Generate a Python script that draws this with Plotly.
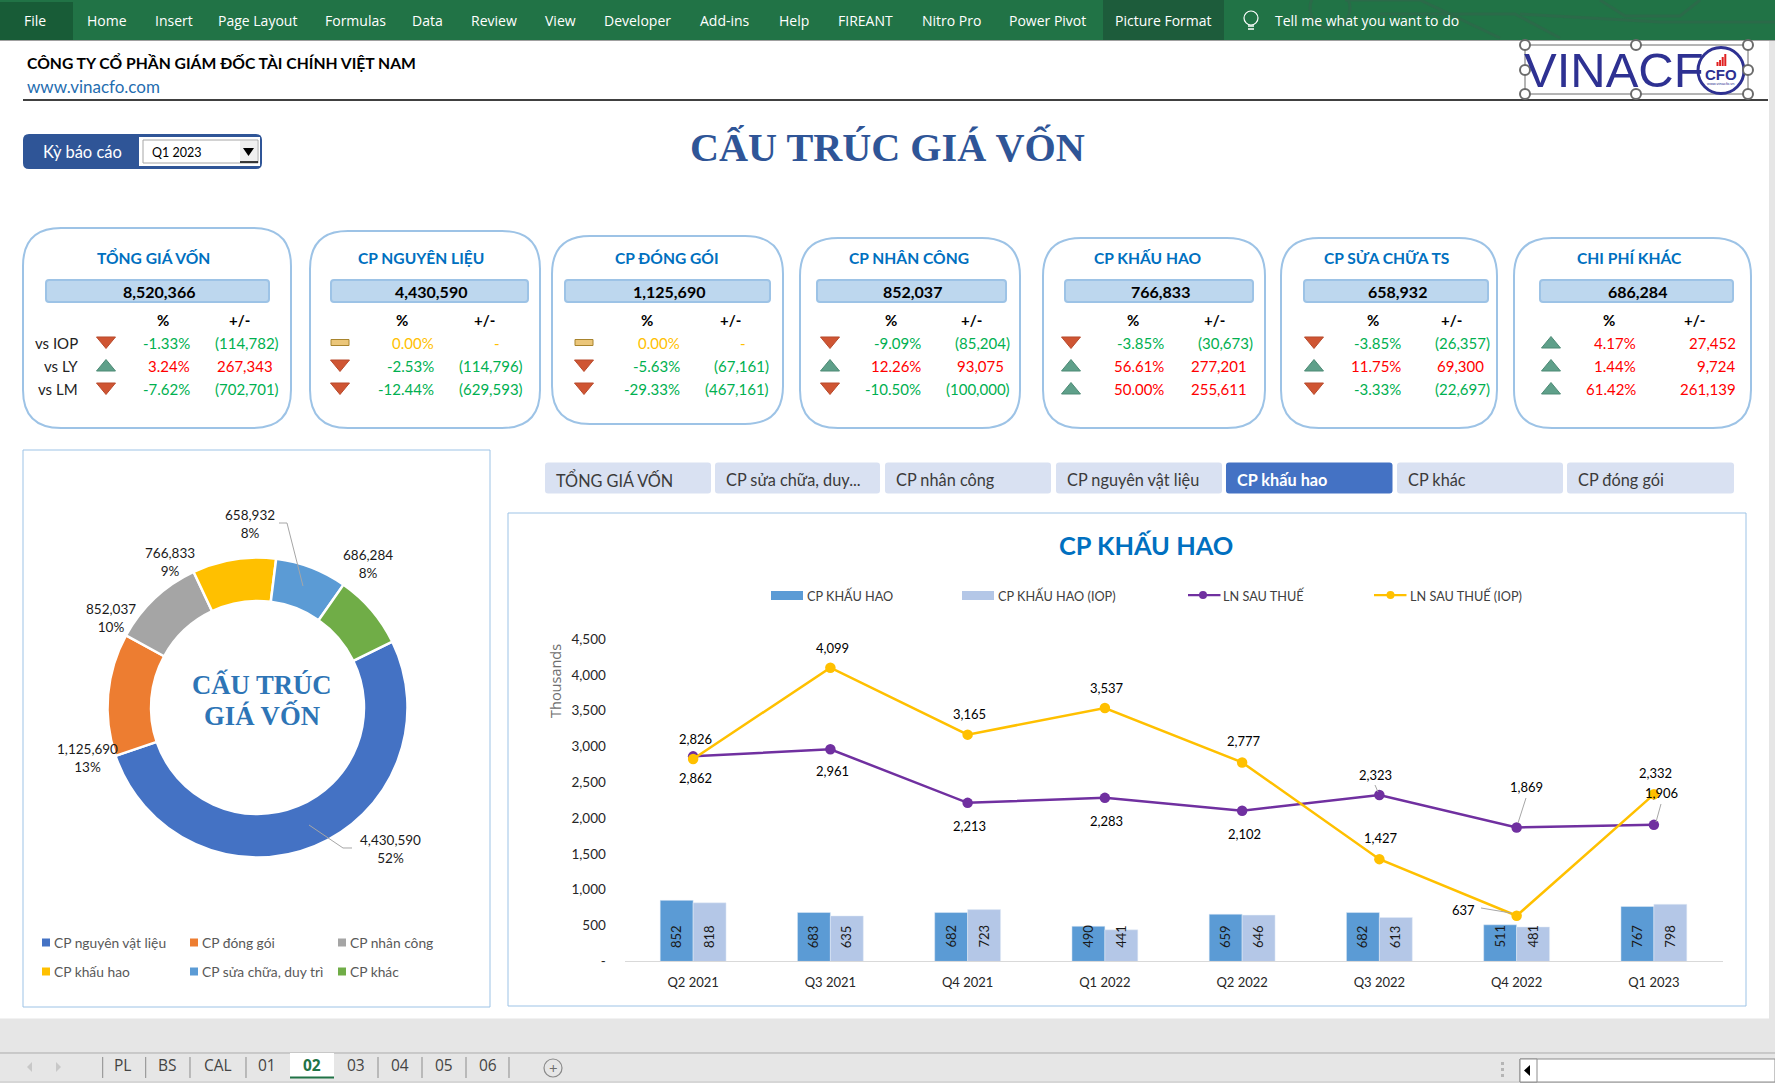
"""
Dashboard "Cau truc gia von" - rebuilt with plotly.
"""

from plotly import graph_objects as go

# DATA
pie_labels = ["CP nguyên vật liệu", "CP đóng gói", "CP nhân công",
              "CP khấu hao", "CP sửa chữa, duy trì", "CP khác"]
pie_values = [4430590, 1125690, 852037, 766833, 658932, 686284]
pie_pct_labels = ["52%", "13%", "10%", "9%", "8%", "8%"]

quarters = ["Q2 2021", "Q3 2021", "Q4 2021", "Q1 2022", "Q2 2022", "Q3 2022", "Q4 2022", "Q1 2023"]
cp_khau_hao = [852, 683, 682, 490, 659, 682, 511, 767]
cp_khau_hao_iop = [818, 635, 723, 441, 646, 613, 481, 798]
ln_sau_thue = [2862, 2961, 2213, 2283, 2102, 2323, 1869, 1906]
ln_sau_thue_iop = [2826, 4099, 3165, 3537, 2777, 1427, 637, 2332]
y_tick_values = [0, 500, 1000, 1500, 2000, 2500, 3000, 3500, 4000, 4500]
y_tick_labels = ["-", "500", "1,000", "1,500", "2,000", "2,500", "3,000", "3,500", "4,000", "4,500"]

card_titles = ["TỔNG GIÁ VỐN", "CP NGUYÊN LIỆU", "CP ĐÓNG GÓI", "CP NHÂN CÔNG",
               "CP KHẤU HAO", "CP SỬA CHỮA TS", "CHI PHÍ KHÁC"]
card_totals = [8520366, 4430590, 1125690, 852037, 766833, 658932, 686284]
row_names = ["vs IOP", "vs LY", "vs LM"]
pct_iop = [-1.33, 0.00, 0.00, -9.09, -3.85, -3.85, 4.17]
pct_ly = [3.24, -2.53, -5.63, 12.26, 56.61, 11.75, 1.44]
pct_lm = [-7.62, -12.44, -29.33, -10.50, 50.00, -3.33, 61.42]
amt_iop = [-114782, 0, 0, -85204, -30673, -26357, 27452]
amt_ly = [267343, -114796, -67161, 93075, 277201, 69300, 9724]
amt_lm = [-702701, -629593, -467161, -100000, 255611, -22697, 261139]

button_names = ["TỔNG GIÁ VỐN", "CP sửa chữa, duy...", "CP nhân công", "CP nguyên vật liệu",
                "CP khấu hao", "CP khác", "CP đóng gói"]
ribbon_names = ["Home", "Insert", "Page Layout", "Formulas", "Data", "Review", "View", "Developer",
                "Add-ins", "Help", "FIREANT", "Nitro Pro", "Power Pivot", "Picture Format"]
sheet_names = ["PL", "BS", "CAL", "01", "02", "03", "04", "05", "06"]

# LAYOUT CONSTANTS (pixels of the 1775x1083 page)
W, H = 1775, 1083
FONT_UI = "Open Sans"
FONT_CELL = "Lato"
FONT_SERIF = "Liberation Serif"
BLUE_BORDER = "#9DC3E6"
NAVY = "#2F5597"

ribbon_x = [87, 155, 218, 325, 412, 471, 545, 604, 700, 779, 838, 922, 1009, 1115]
sheet_x = [123, 167.5, 218, 267, 312, 356, 400, 444, 488]
sheet_sep = [102.7, 145.7, 190, 246, 290, 334, 378, 422, 466, 509]
button_box = [(545, 711), (715, 880), (885, 1051), (1056, 1222), (1226, 1392.5), (1397, 1563), (1567, 1734)]

card_box = [(23, 291, 228, 428), (310, 540, 231, 428), (552, 783, 236, 424), (800, 1020, 238, 428),
            (1043, 1265, 238, 428), (1281, 1497, 238, 428), (1514, 1751, 238, 428)]
card_title_x = [153, 421, 666.5, 909, 1147, 1386, 1629]
value_box = [(46, 269), (331, 528), (565, 770), (817, 1006), (1065, 1253), (1304, 1488), (1540, 1733)]
head_pct_x = [163, 402, 647, 891, 1133, 1373, 1609]
head_amt_x = [240, 484, 730, 971, 1214, 1451, 1694]
icon_x = [106, 340, 584, 830, 1071, 1314, 1551]
pct_right = [190, 434, 680, 921, 1164, 1401, 1636]
amt_right = [279, 523, 769, 1010, 1253, 1490, 1742]
row_y = [342.5, 365.5, 388.5]

pie_label_pos = [(390, 849), (87, 758), (111, 618), (170, 562), (250, 524), (368, 564)]
pie_legend_pos = [(42, 942.5), (190, 942.5), (338, 942.5), (42, 971.5), (190, 971.5), (338, 971.5)]
pie_colors = ["#4472C4", "#ED7D31", "#A5A5A5", "#FFC000", "#5B9BD5", "#70AD47"]

# label offsets from the line points (pixels)
iop_label_shift = [(2, 20), (2, 20), (2, 21), (2, 20), (2, 21), (2, 21), (-53, 6), (2, 21)]
ln_label_shift = [(2, -22), (2, -22), (2, -23), (2, -23), (2, -23), (-4, 20), (10, 41), (8, 32)]


def px(x):
    return x / W


def py(y):
    return 1 - y / H


shapes = []
annotations = []


def rect(x0, y0, x1, y1, fill=None, line=None, width=1, layer="below"):
    shapes.append(dict(type="rect", xref="paper", yref="paper", x0=px(x0), x1=px(x1), y0=py(y0), y1=py(y1),
                       fillcolor=fill or "rgba(0,0,0,0)", layer=layer,
                       line=dict(color=line or "rgba(0,0,0,0)", width=width if line else 0)))


def path(points, line=None, width=1, fill=None, close=False, layer="below"):
    d = "M " + " L ".join(f"{px(x):.5f},{py(y):.5f}" for x, y in points)
    if close:
        d += " Z"
    shapes.append(dict(type="path", xref="paper", yref="paper", path=d, fillcolor=fill or "rgba(0,0,0,0)",
                       layer=layer, line=dict(color=line or "rgba(0,0,0,0)", width=width if line else 0)))


def round_rect(x0, y0, x1, y1, r, fill=None, line=None, width=1):
    c = lambda x, y: f"{px(x):.5f},{py(y):.5f}"
    d = (f"M {c(x0 + r, y0)} L {c(x1 - r, y0)} Q {c(x1, y0)} {c(x1, y0 + r)} L {c(x1, y1 - r)} "
         f"Q {c(x1, y1)} {c(x1 - r, y1)} L {c(x0 + r, y1)} Q {c(x0, y1)} {c(x0, y1 - r)} "
         f"L {c(x0, y0 + r)} Q {c(x0, y0)} {c(x0 + r, y0)} Z")
    shapes.append(dict(type="path", xref="paper", yref="paper", path=d, fillcolor=fill or "rgba(0,0,0,0)",
                       layer="below", line=dict(color=line or "rgba(0,0,0,0)", width=width if line else 0)))


def circle(x, y, r, fill=None, line=None, width=1):
    shapes.append(dict(type="circle", xref="paper", yref="paper", x0=px(x - r), x1=px(x + r),
                       y0=py(y + r), y1=py(y - r), fillcolor=fill or "rgba(0,0,0,0)", layer="below",
                       line=dict(color=line or "rgba(0,0,0,0)", width=width if line else 0)))


def text(x, y, s, size=13, color="#000000", anchor="center", family=FONT_CELL, bold=False, angle=0):
    if bold:
        s = f"<b>{s}</b>"
    annotations.append(dict(xref="paper", yref="paper", x=px(x), y=py(y), text=s, showarrow=False,
                            xanchor=anchor, yanchor="middle", textangle=angle, borderpad=0, borderwidth=0,
                            font=dict(family=family, size=size, color=color)))


# EXCEL WINDOW
rect(0, 0, W, 40, fill="#217346")
for pts in ([(1345, 0), (1420, 0), (1500, 38)], [(1380, 14), (1515, 14), (1560, 38)],
            [(1520, 14), (1660, 22), (1775, 22)], [(1600, 0), (1625, 16), (1680, 16), (1700, 0)]):
    path(pts, line="#2B6A49", width=3)
circle(1330, 8, 20, line="#2B6A49", width=3)
rect(0, 2, 73, 40, fill="#185C37")
rect(1103, 0, 1224, 40, fill="#1D5C3B")
rect(0, 40, W, 41, fill="#A0A0A0")
text(35, 20, "File", size=14, color="white", family=FONT_UI)
for name, x in zip(ribbon_names, ribbon_x):
    text(x, 20, name, size=14, color="white", anchor="left", family=FONT_UI)
circle(1251, 18, 7, line="white", width=1.2)
path([(1248, 26), (1254, 26)], line="white", width=1.5)
path([(1248, 29), (1254, 29)], line="white", width=1.5)
text(1275, 20, "Tell me what you want to do", size=14, color="white", anchor="left", family=FONT_UI)

rect(1769, 41, W, 1053, fill="#E6E6E6")
rect(0, 1018.5, W, H, fill="#E6E6E6")
path([(0, 1053), (W, 1053)], line="#ABABAB", width=1)
path([(0, 1082), (W, 1082)], line="#C6C6C6", width=1)
path([(32, 1062), (32, 1072), (27, 1067)], fill="#C8C8C8", close=True)
path([(56, 1062), (56, 1072), (61, 1067)], fill="#C8C8C8", close=True)
rect(290, 1053, 334, 1077, fill="white")
rect(290, 1076.5, 334, 1078.5, fill="#217346")
for x in sheet_sep:
    if x not in (290, 334):
        path([(x, 1057), (x, 1078)], line="#8C8C8C", width=1)
for name, x in zip(sheet_names, sheet_x):
    active = name == "02"
    text(x, 1065, name, size=15.5, color="#217346" if active else "#444444", family=FONT_UI, bold=active)
circle(553, 1068, 9, line="#8A8A8A", width=1.2)
text(553, 1068, "+", size=15, color="#6E6E6E", family=FONT_UI)
for dot_y in (1062, 1068, 1074):
    rect(1501, dot_y, 1504, dot_y + 3, fill="#B5B5B5")
rect(1520, 1059, W, 1082, fill="white", line="#8C8C8C")
rect(1520, 1059, 1537, 1082, fill="white", line="#8C8C8C")
path([(1530, 1065), (1530, 1076), (1524, 1070.5)], fill="#000000", close=True)

# HEADER
text(27, 62, "CÔNG TY CỔ PHẦN GIÁM ĐỐC TÀI CHÍNH VIỆT NAM", size=15.7, anchor="left", bold=True)
text(27, 86, "www.vinacfo.com", size=17, color="#1F6DB0", anchor="left")
path([(23, 100), (1768, 100)], line="#000000", width=1.3)

# logo, with its selection frame
rect(1525, 45, 1748, 94, line="#6B6B6B", width=1)
text(1524, 70, "VINACF", size=49, color="#2E3192", anchor="left", family="Liberation Sans")
circle(1721, 70.5, 23, fill="white", line="#2E3192", width=3)
text(1721, 74, "CFO", size=15, color="#2E3192", family="Liberation Sans", bold=True)
text(1721, 83, "www.vinacfo.vn", size=4, color="#2E3192", family="Liberation Sans")
for i, bar_h in enumerate((4, 6, 9, 12)):
    rect(1716.5 + 2.6 * i, 66 - bar_h, 1718.5 + 2.6 * i, 66, fill="#E02020")
for hx in (1525, 1636, 1748):
    for hy in (45, 70, 94):
        if hx != 1636 or hy != 70:
            circle(hx, hy, 5, fill="white", line="#6B6B6B", width=2)

# period selector
round_rect(23, 134, 262, 169, 6, fill=NAVY)
rect(139, 137, 260, 166, fill="#FFFFFF")
rect(143, 140, 258, 163, fill="white", line="#A6A6A6")
rect(240, 141, 257, 162, fill="#F0F0F0")
path([(243, 148), (254, 148), (248.5, 156)], fill="#000000", close=True)
path([(240, 162), (258, 162)], line="#000000", width=1.5)
text(82, 152, "Kỳ báo cáo", size=16.5, color="white")
text(152, 153, "Q1 2023", size=12.5, color="#000000", anchor="left")
text(887, 147, "CẤU TRÚC GIÁ VỐN", size=40.2, color=NAVY, family=FONT_SERIF, bold=True)


# KPI CARDS
def fmt_pct(v):
    return f"{v:.2f}%"


def fmt_amt(v):
    if v == 0:
        return "-"
    return f"({abs(v):,})" if v < 0 else f"{v:,}"


def sign_color(v):
    if v == 0:
        return "#FFC000"
    return "#00B050" if v < 0 else "#FF0000"


def trend_icon(x, y, v):
    if v == 0:
        rect(x - 9, y - 3, x + 9, y + 3, fill="#EBC67A", line="#A8842E", width=1)
    elif v < 0:
        path([(x - 9.5, y - 5.5), (x + 9.5, y - 5.5), (x, y + 6)], fill="#CF5533", line="#B84A2C", close=True)
    else:
        path([(x - 9.5, y + 5.5), (x + 9.5, y + 5.5), (x, y - 6)], fill="#5FA08A", line="#4D8A75", close=True)


for i, title in enumerate(card_titles):
    x0, x1, y0, y1 = card_box[i]
    round_rect(x0, y0, x1, y1, 38, fill="white", line=BLUE_BORDER, width=2)
    text(card_title_x[i], 258, title, size=15.6, color="#0070C0", bold=True)
    bx0, bx1 = value_box[i]
    round_rect(bx0, 280, bx1, 302, 3, fill="#BDD7EE", line=BLUE_BORDER, width=2)
    text((bx0 + bx1) / 2 + 1, 291.5, f"{card_totals[i]:,}", size=16, bold=True)
    text(head_pct_x[i], 320, "%", size=15, bold=True)
    text(head_amt_x[i], 320, "+/-", size=15, bold=True)
    for y, pcts, amts in zip(row_y, (pct_iop, pct_ly, pct_lm), (amt_iop, amt_ly, amt_lm)):
        trend_icon(icon_x[i], y, pcts[i])
        text(pct_right[i], y, fmt_pct(pcts[i]), size=15, color=sign_color(pcts[i]), anchor="right")
        amt = amts[i]
        if amt == 0:
            text(amt_right[i] - 26, y, fmt_amt(amt), size=15, color=sign_color(amt))
        else:
            edge = amt_right[i] if amt < 0 else amt_right[i] - 6
            text(edge, y, fmt_amt(amt), size=15, color=sign_color(pcts[i]), anchor="right")
for name, y in zip(row_names, row_y):
    text(77.5, y, name, size=15, color="#222222", anchor="right")

# DONUT PANEL
rect(23, 450, 490, 1007, fill="white", line=BLUE_BORDER)
for value, pct, (x, y) in zip(pie_values, pie_pct_labels, pie_label_pos):
    text(x, y, f"{value:,}<br>{pct}", size=13.5, color="#1A1A1A")
path([(279, 523), (287, 523), (303, 586)], line="#A6A6A6", layer="above")
path([(352, 848), (343, 848), (309, 825)], line="#A6A6A6", layer="above")
text(262, 684, "CẤU TRÚC", size=26.7, color="#2E75B6", family=FONT_SERIF, bold=True)
text(262, 715, "GIÁ VỐN", size=26.7, color="#2E75B6", family=FONT_SERIF, bold=True)
for name, color, (x, y) in zip(pie_labels, pie_colors, pie_legend_pos):
    rect(x, y - 4, x + 8, y + 4, fill=color)
    text(x + 12, y, name, size=13.8, color="#595959", anchor="left")

# BUTTONS
for name, (x0, x1) in zip(button_names, button_box):
    active = name == "CP khấu hao"
    round_rect(x0, 462.5, x1, 493.5, 3, fill="#4472C4" if active else "#D9E1F2")
    text(x0 + 11, 479, name, size=16.3, color="white" if active else "#3B3B3B", anchor="left", bold=active)

# COMBO CHART PANEL
rect(508, 513, 1746, 1006, fill="white", line=BLUE_BORDER)
text(1146, 545, "CP KHẤU HAO", size=25.4, color="#0070C0", bold=True)
text(555, 681, "Thousands", size=14.5, color="#6E6E6E", angle=-90, family=FONT_UI)

# chart legend
rect(771, 591, 803, 600, fill="#5B9BD5")
text(806.5, 595, "CP KHẤU HAO", size=12.7, color="#404040", anchor="left")
rect(962, 591, 994, 600, fill="#B4C7E7")
text(998, 595, "CP KHẤU HAO (IOP)", size=12.7, color="#404040", anchor="left")
path([(1188, 595), (1220.5, 595)], line="#7030A0", width=2.25)
circle(1203, 595, 4, fill="#7030A0")
text(1223, 595, "LN SAU THUẾ", size=12.7, color="#404040", anchor="left")
path([(1374, 595), (1406.5, 595)], line="#FFC000", width=2.25)
circle(1390.5, 595, 4, fill="#FFC000")
text(1410, 595, "LN SAU THUẾ (IOP)", size=12.7, color="#404040", anchor="left")

# leader lines of the moved labels
for pts in ([(1375, 785), (1378, 792)], [(1526, 798), (1518, 823)], [(1661, 804), (1656, 822)],
            [(1481, 908), (1511, 913)]):
    path(pts, line="#A6A6A6", layer="above")

# bar values, written at the foot of each bar
for q, a, b in zip(quarters, cp_khau_hao, cp_khau_hao_iop):
    for value, shift in ((a, -16.5), (b, 16.5)):
        annotations.append(dict(xref="x", yref="y", x=q, y=0, xshift=shift, yshift=25, text=str(value),
                                textangle=-90, showarrow=False, borderpad=0,
                                font=dict(family=FONT_CELL, size=13, color="#1A1A1A")))

# line values
for values, shifts in ((ln_sau_thue, ln_label_shift), (ln_sau_thue_iop, iop_label_shift)):
    for q, value, (dx, dy) in zip(quarters, values, shifts):
        annotations.append(dict(xref="x", yref="y", x=q, y=value, xshift=dx, yshift=dy, text=f"{value:,}",
                                showarrow=False, borderpad=0,
                                font=dict(family=FONT_CELL, size=13, color="#000000")))

fig = go.Figure()
fig.add_trace(go.Pie(
    labels=pie_labels, values=pie_values, hole=0.71, sort=False, direction="clockwise", rotation=64,
    textinfo="none", showlegend=False,
    marker=dict(colors=pie_colors, line=dict(color="white", width=2.5)),
    domain=dict(x=[px(257.5 - 150), px(257.5 + 150)], y=[py(707.5 + 150), py(707.5 - 150)]),
))
fig.add_trace(go.Bar(name="CP KHẤU HAO", x=quarters, y=cp_khau_hao, marker_color="#5B9BD5"))
fig.add_trace(go.Bar(name="CP KHẤU HAO (IOP)", x=quarters, y=cp_khau_hao_iop, marker_color="#B4C7E7"))
fig.add_trace(go.Scatter(name="LN SAU THUẾ", x=quarters, y=ln_sau_thue, mode="lines+markers",
                         line=dict(color="#7030A0", width=2.5), marker=dict(color="#7030A0", size=10.5)))
fig.add_trace(go.Scatter(name="LN SAU THUẾ (IOP)", x=quarters, y=ln_sau_thue_iop, mode="lines+markers",
                         line=dict(color="#FFC000", width=2.5), marker=dict(color="#FFC000", size=10.5)))

fig.update_layout(
    width=W, height=H, margin=dict(l=0, r=0, t=0, b=0, pad=0), autosize=False,
    paper_bgcolor="white", plot_bgcolor="rgba(0,0,0,0)", showlegend=False,
    barmode="group", bargap=0.52, bargroupgap=0,
    shapes=shapes, annotations=annotations,
    xaxis=dict(domain=[px(624.5), px(1722.5)], anchor="y", showgrid=False, showline=True, linecolor="#D9D9D9",
               ticks="outside", ticklen=9, tickcolor="rgba(0,0,0,0)", type="category", automargin=False,
               tickfont=dict(family=FONT_CELL, size=13, color="#262626")),
    yaxis=dict(domain=[py(961.4), py(639)], range=[0, 4500], tickvals=y_tick_values, ticktext=y_tick_labels,
               showgrid=False, zeroline=False, showline=False, ticks="outside", ticklen=15, automargin=False,
               tickcolor="rgba(0,0,0,0)", tickfont=dict(family=FONT_CELL, size=13.5, color="#262626")),
)

fig.write_html("out.html", config={"displayModeBar": False},
               post_script="document.body.style.margin='0';document.body.style.overflow='hidden';")
